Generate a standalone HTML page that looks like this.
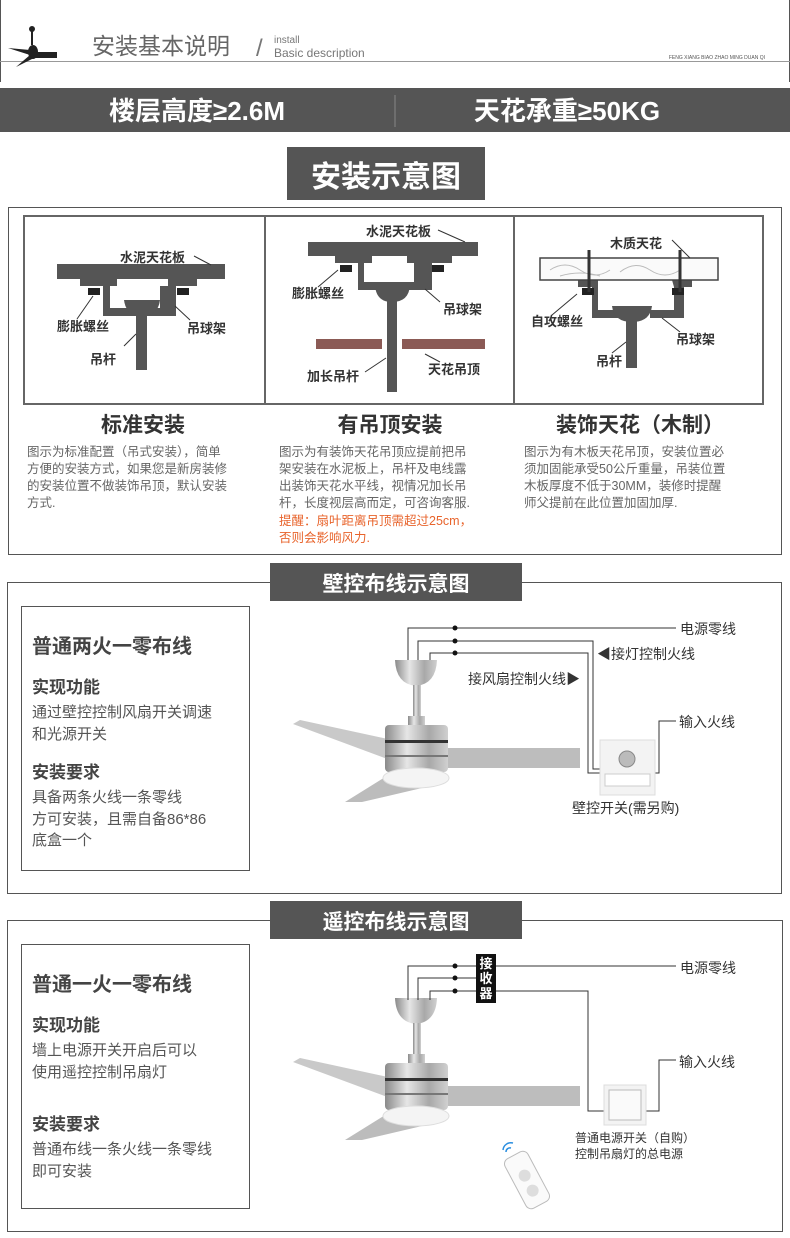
<!DOCTYPE html>
<html><head><meta charset="utf-8"><style>
html,body{margin:0;padding:0;background:#fff;}
svg{display:block;}
text{font-family:"Liberation Sans","Noto Sans CJK SC",sans-serif;}
</style></head><body>
<svg width="790" height="1238" viewBox="0 0 790 1238" xmlns="http://www.w3.org/2000/svg">
<defs>
<linearGradient id="met" x1="0" x2="1" y1="0" y2="0">
<stop offset="0" stop-color="#8a8a8a"/><stop offset="0.35" stop-color="#e6e6e6"/><stop offset="0.7" stop-color="#a8a8a8"/><stop offset="1" stop-color="#d0d0d0"/></linearGradient>
<g id="fan">
<path d="M293,724 L300,720 L420,746 L420,764 L390,760 Z" fill="#c9c9c9"/>
<path d="M345,802 L390,774 L422,770 L422,788 L362,802 Z" fill="#bcbcbc"/>
<rect x="440" y="748" width="140" height="20" fill="#bdbdbd"/>
<path d="M395,660 L437,660 Q436,684 416,686 Q396,684 395,660 Z" fill="url(#met)"/>
<rect x="413" y="685" width="8" height="35" fill="url(#met)"/>
<rect x="408" y="716" width="17" height="10" fill="url(#met)"/>
<rect x="385" y="725" width="63" height="47" rx="4" fill="url(#met)"/>
<rect x="385" y="740" width="63" height="3" fill="#333"/>
<rect x="385" y="755" width="63" height="2" fill="#777"/>
<ellipse cx="416" cy="778" rx="33" ry="10" fill="#f4f4f4" stroke="#ddd"/>
</g>
</defs>

<!-- header -->
<line x1="0.5" y1="0" x2="0.5" y2="82" stroke="#555"/>
<line x1="789.5" y1="0" x2="789.5" y2="82" stroke="#555"/>
<line x1="0" y1="61.5" x2="790" y2="61.5" stroke="#999"/>
<rect x="29" y="26" width="6" height="6" rx="3" fill="#222"/>
<rect x="31" y="30" width="2" height="15" fill="#222"/>
<ellipse cx="33" cy="52" rx="5" ry="7" fill="#222"/>
<path d="M8,48 L30,50 L30,55 Z" fill="#222"/>
<path d="M16,67 L30,55 L34,58 Z" fill="#222"/>
<rect x="34" y="52" width="23" height="6" fill="#222"/>
<text x="92" y="54" font-size="23" fill="#666">安装基本说明</text>
<text x="256" y="56" font-size="24" fill="#777">/</text>
<text x="274" y="43" font-size="10" fill="#777">install</text>
<text x="274" y="57" font-size="12" fill="#777">Basic description</text>
<text x="765" y="59" font-size="5" fill="#555" text-anchor="end">FENG XIANG BIAO ZHAO MING DUAN QI</text>

<!-- band -->
<rect x="0" y="88" width="790" height="44" fill="#555"/>
<line x1="395" y1="95" x2="395" y2="127" stroke="#888"/>
<text x="197" y="120" font-size="26" font-weight="bold" fill="#fff" text-anchor="middle">楼层高度≥2.6M</text>
<text x="567" y="120" font-size="26" font-weight="bold" fill="#fff" text-anchor="middle">天花承重≥50KG</text>

<rect x="287" y="147" width="198" height="53" fill="#555"/>
<text x="386" y="187" font-size="30" font-weight="bold" fill="#fff" text-anchor="middle">安装示意图</text>

<!-- section 1 -->
<rect x="8.5" y="207.5" width="773" height="347" fill="none" stroke="#555"/>
<rect x="24" y="216" width="739" height="188" fill="none" stroke="#666" stroke-width="2"/>
<line x1="265" y1="216" x2="265" y2="404" stroke="#666" stroke-width="2"/>
<line x1="514" y1="216" x2="514" y2="404" stroke="#666" stroke-width="2"/>

<g fill="#555" stroke="none">
<rect x="57" y="264" width="168" height="15"/>
<path d="M80,279 H117 V286 H110 V308 H160 V286 H168 V279 H197 V286 H176 V316 H103 V286 H80Z"/>
<rect x="88" y="288" width="12" height="7" fill="#222"/><rect x="177" y="288" width="12" height="7" fill="#222"/>
<path d="M124,300 H160 Q158,316 142,316 Q126,316 124,300Z"/>
<rect x="136" y="314" width="11" height="56"/>
<rect x="308" y="242" width="170" height="14"/>
<path d="M335,256 H372 V263 H364 V282 H414 V263 H407 V256 H452 V263 H432 V290 H358 V263 H335Z"/>
<rect x="340" y="265" width="12" height="7" fill="#222"/><rect x="432" y="265" width="12" height="7" fill="#222"/>
<path d="M375,285 H410 Q409,302 392,302 Q376,302 375,285Z"/>
<rect x="387" y="300" width="10" height="92"/>
<rect x="316" y="339" width="66" height="10" fill="#8b5a55"/><rect x="402" y="339" width="83" height="10" fill="#8b5a55"/>
<rect x="578" y="280" width="20" height="7"/>
<path d="M578,286 H598 V310 H620 V318 H592 V286Z"/>
<path d="M672,280 H692 V287 H684 V318 H650 V310 H674 V287Z"/>
<rect x="582" y="288" width="12" height="7" fill="#222"/><rect x="672" y="288" width="12" height="7" fill="#222"/>
<path d="M612,306 H652 Q650,322 632,322 Q614,322 612,306Z"/>
<rect x="626" y="320" width="11" height="48"/>
</g>
<rect x="540" y="258" width="178" height="22" fill="#fafafa" stroke="#444" stroke-width="1.5"/>
<path d="M550,270 q15,-10 30,0 t30,0 M620,272 q15,-12 30,-2 t30,0 M560,276 q20,-6 40,0" fill="none" stroke="#bbb"/>
<line x1="589" y1="250" x2="589" y2="292" stroke="#333" stroke-width="3"/>
<line x1="680" y1="250" x2="680" y2="292" stroke="#333" stroke-width="3"/>

<g font-size="13" fill="#333" font-weight="bold">
<text x="120" y="262">水泥天花板</text><text x="57" y="331">膨胀螺丝</text><text x="187" y="333">吊球架</text><text x="90" y="364">吊杆</text>
<text x="366" y="236">水泥天花板</text><text x="292" y="298">膨胀螺丝</text><text x="443" y="314">吊球架</text><text x="307" y="381">加长吊杆</text><text x="428" y="374">天花吊顶</text>
<text x="610" y="248">木质天花</text><text x="531" y="326">自攻螺丝</text><text x="676" y="344">吊球架</text><text x="596" y="366">吊杆</text>
</g>
<g stroke="#333" fill="none">
<path d="M194,256 L211,265 M77,319 L93,296 M175,306 L190,320 M124,346 L136,334"/>
<path d="M438,230 L465,242 M318,287 L338,270 M425,289 L440,302 M365,372 L386,358 M425,354 L440,362"/>
<path d="M672,240 L690,258 M552,315 L577,294 M662,318 L680,332 M612,353 L626,342"/>
</g>

<g font-size="21" font-weight="bold" fill="#333" text-anchor="middle">
<text x="143" y="432">标准安装</text><text x="390" y="432">有吊顶安装</text><text x="640" y="432">装饰天花（木制）</text>
</g>
<g font-size="12.5" fill="#666">
<text x="27" y="456">图示为标准配置（吊式安装），简单</text>
<text x="27" y="473">方便的安装方式，如果您是新房装修</text>
<text x="27" y="490">的安装位置不做装饰吊顶，默认安装</text>
<text x="27" y="507">方式.</text>
<text x="279" y="456">图示为有装饰天花吊顶应提前把吊</text>
<text x="279" y="473">架安装在水泥板上，吊杆及电线露</text>
<text x="279" y="490">出装饰天花水平线，视情况加长吊</text>
<text x="279" y="507">杆，长度视层高而定，可咨询客服.</text>
<text x="279" y="525" fill="#e8642c">提醒：扇叶距离吊顶需超过25cm，</text>
<text x="279" y="542" fill="#e8642c">否则会影响风力.</text>
<text x="524" y="456">图示为有木板天花吊顶，安装位置必</text>
<text x="524" y="473">须加固能承受50公斤重量，吊装位置</text>
<text x="524" y="490">木板厚度不低于30MM，装修时提醒</text>
<text x="524" y="507">师父提前在此位置加固加厚.</text>
</g>

<!-- section 2 -->
<rect x="7.5" y="582.5" width="774" height="311" fill="none" stroke="#555"/>
<rect x="270" y="563" width="252" height="38" fill="#555"/>
<text x="396" y="591" font-size="21" font-weight="bold" fill="#fff" text-anchor="middle">壁控布线示意图</text>
<rect x="21.5" y="606.5" width="228" height="264" fill="none" stroke="#555"/>
<text x="32" y="653" font-size="20" font-weight="bold" fill="#444">普通两火一零布线</text>
<text x="32" y="693" font-size="17" font-weight="bold" fill="#444">实现功能</text>
<text x="32" y="717" font-size="15" fill="#555">通过壁控控制风扇开关调速</text>
<text x="32" y="739" font-size="15" fill="#555">和光源开关</text>
<text x="32" y="778" font-size="17" font-weight="bold" fill="#444">安装要求</text>
<text x="32" y="802" font-size="15" fill="#555">具备两条火线一条零线</text>
<text x="32" y="824" font-size="15" fill="#555">方可安装，且需自备86*86</text>
<text x="32" y="845" font-size="15" fill="#555">底盒一个</text>

<use href="#fan"/>
<g stroke="#333" fill="none">
<path d="M408,660 V628 H676"/>
<path d="M418,660 V641 H593 V769 H602"/>
<path d="M430,660 V653 H588 V773 H602"/>
<path d="M653,773 H659 V721 H676"/>
</g>
<g fill="#111"><circle cx="455" cy="628" r="2.5"/><circle cx="455" cy="641" r="2.5"/><circle cx="455" cy="653" r="2.5"/></g>
<rect x="600" y="740" width="55" height="55" fill="#f3f3f3" stroke="#ddd"/>
<circle cx="627" cy="759" r="8" fill="#bbb" stroke="#888"/>
<rect x="605" y="774" width="45" height="12" fill="#fff" stroke="#ccc"/>
<g font-size="14" fill="#333">
<text x="680" y="634">电源零线</text>
<text x="597" y="659">◀接灯控制火线</text>
<text x="468" y="684">接风扇控制火线▶</text>
<text x="679" y="727">输入火线</text>
<text x="572" y="813">壁控开关(需另购)</text>
</g>

<!-- section 3 -->
<rect x="7.5" y="920.5" width="775" height="311" fill="none" stroke="#555"/>
<rect x="270" y="901" width="252" height="38" fill="#555"/>
<text x="396" y="929" font-size="21" font-weight="bold" fill="#fff" text-anchor="middle">遥控布线示意图</text>
<rect x="21.5" y="944.5" width="228" height="264" fill="none" stroke="#555"/>
<text x="32" y="991" font-size="20" font-weight="bold" fill="#444">普通一火一零布线</text>
<text x="32" y="1031" font-size="17" font-weight="bold" fill="#444">实现功能</text>
<text x="32" y="1055" font-size="15" fill="#555">墙上电源开关开启后可以</text>
<text x="32" y="1077" font-size="15" fill="#555">使用遥控控制吊扇灯</text>
<text x="32" y="1130" font-size="17" font-weight="bold" fill="#444">安装要求</text>
<text x="32" y="1154" font-size="15" fill="#555">普通布线一条火线一条零线</text>
<text x="32" y="1176" font-size="15" fill="#555">即可安装</text>

<use href="#fan" transform="translate(0,338)"/>
<g stroke="#333" fill="none">
<path d="M408,1000 V966 H676"/>
<path d="M418,1000 V978 H478"/>
<path d="M430,1000 V991 H588 V1111 H605"/>
<path d="M645,1111 H659 V1060 H676"/>
</g>
<g fill="#111"><circle cx="455" cy="966" r="2.5"/><circle cx="455" cy="978" r="2.5"/><circle cx="455" cy="991" r="2.5"/></g>
<rect x="476" y="954" width="20" height="49" fill="#111"/>
<g font-size="13" font-weight="bold" fill="#fff" text-anchor="middle">
<text x="486" y="968">接</text><text x="486" y="983">收</text><text x="486" y="998">器</text></g>
<rect x="604" y="1085" width="42" height="40" fill="#f3f3f3" stroke="#ddd"/>
<rect x="609" y="1090" width="32" height="30" fill="#fafafa" stroke="#bbb"/>
<g font-size="14" fill="#333">
<text x="680" y="973">电源零线</text>
<text x="679" y="1067">输入火线</text>
</g>
<text x="575" y="1142" font-size="12" fill="#333">普通电源开关（自购）</text>
<text x="575" y="1158" font-size="12" fill="#333">控制吊扇灯的总电源</text>
<g transform="translate(527,1180) rotate(-28)">
<rect x="-13" y="-28" width="26" height="56" rx="6" fill="#fafafa" stroke="#bbb"/>
<circle cx="0" cy="-5" r="6" fill="#ddd"/><circle cx="0" cy="12" r="6" fill="#ddd"/>
</g>
<path d="M503,1150 a8,8 0 0 1 10,-7 M506,1152 a4,4 0 0 1 5,-4" fill="none" stroke="#2a8ee0" stroke-width="1.5"/>
</svg>
</body></html>
